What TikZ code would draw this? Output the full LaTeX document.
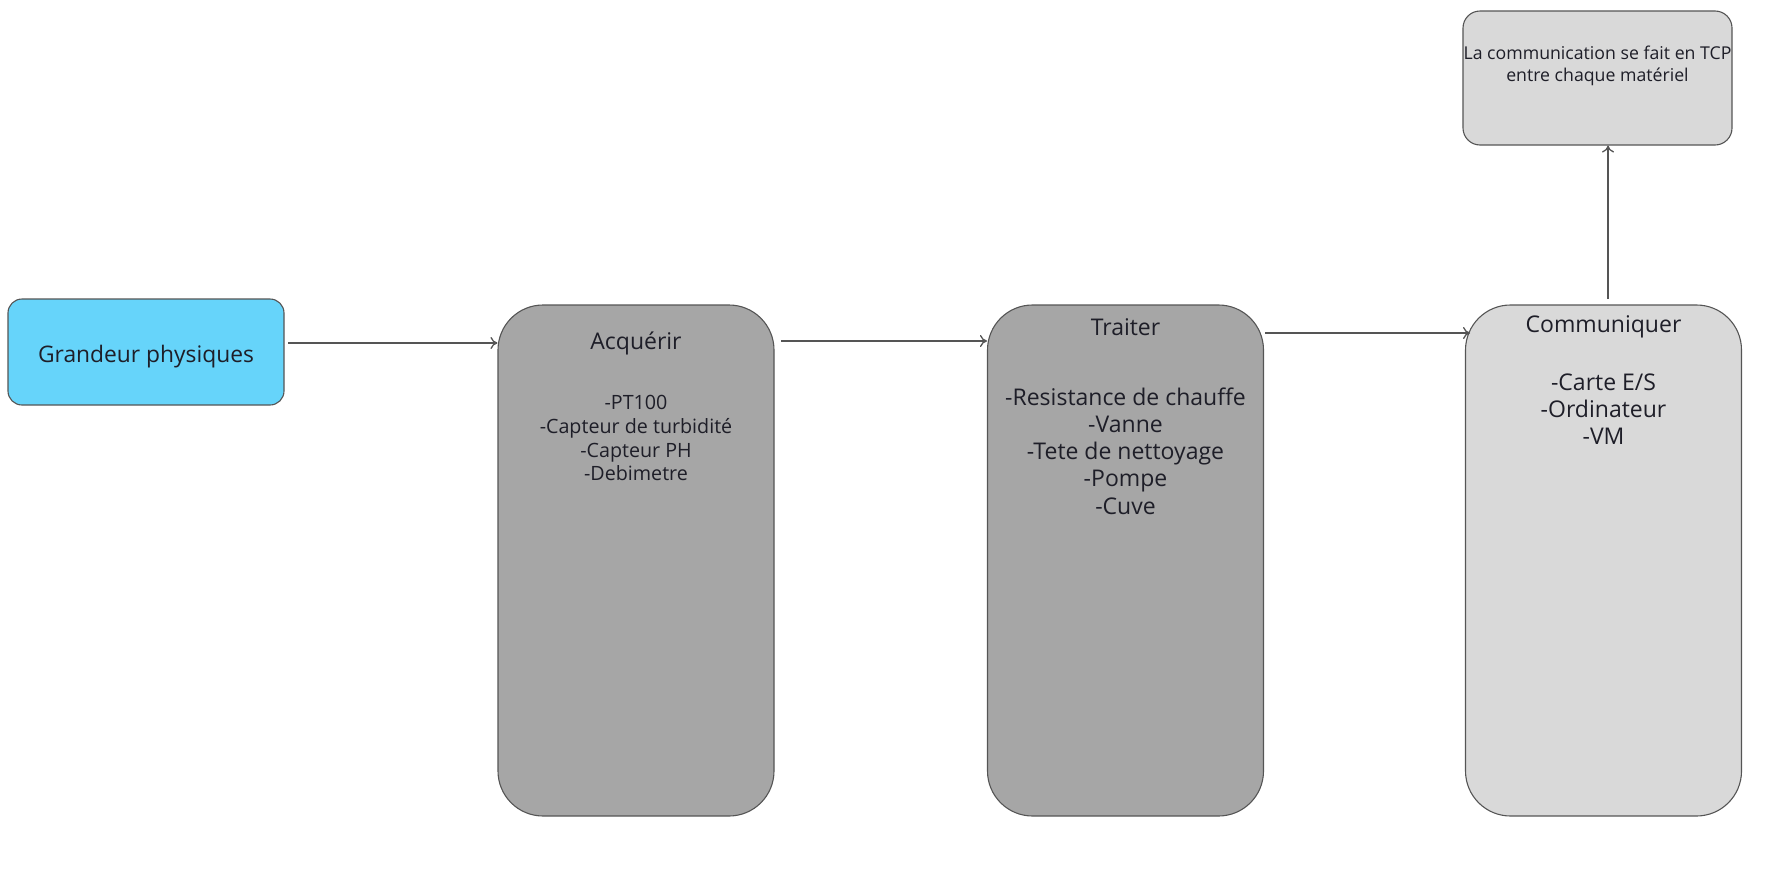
\documentclass[tikz,border=0pt]{standalone}
\usepackage{fontspec}
\setmainfont{Open Sans}
\usetikzlibrary{arrows.meta}
\definecolor{cyanbox}{RGB}{102,212,250}
\definecolor{darkbox}{RGB}{166,166,166}
\definecolor{lightbox}{RGB}{217,217,217}
\definecolor{edgecol}{RGB}{85,85,85}
\definecolor{txtcol}{RGB}{30,30,40}
\tikzset{
  bigbox/.style={draw=edgecol, line width=1.1pt, rounded corners=45pt, minimum width=276pt, minimum height=511pt, inner sep=0pt},
  smallbox/.style={draw=edgecol, line width=1.1pt, inner sep=0pt},
  lbl/.style={align=center, inner sep=0pt, text=txtcol},
  arr/.style={draw=edgecol, line width=1.3pt, -{To[length=7pt,width=12pt]}},
  bigfont/.style={font=\fontsize{23}{27.3}\selectfont},
}
\begin{document}
\begin{tikzpicture}[x=1pt,y=-1pt]
\useasboundingbox (0,0) rectangle (1782,889);
% boxes
\node[smallbox, fill=cyanbox, rounded corners=14pt, minimum width=276pt, minimum height=106pt] (g) at (146,352) {};
\node[lbl, font=\fontsize{22.8}{28}\selectfont] (gt) at (146,357) {Grandeur physiques};
\node[bigbox, fill=darkbox] (acq) at (636,560.5) {};
\node[bigbox, fill=darkbox] (tra) at (1125.5,560.5) {};
\node[bigbox, fill=lightbox] (com) at (1603.5,560.5) {};
\node[smallbox, fill=lightbox, rounded corners=17pt, minimum width=269pt, minimum height=134pt] (tcp) at (1597.5,78) {};
% texts
\node[lbl, bigfont] (acqt) at (636,343) {Acquérir};
\node[lbl, font=\fontsize{19.7}{23.9}\selectfont] (acqi) at (636,438) {-PT100\\-Capteur de turbidité\\-Capteur PH\\-Debimetre};
\node[lbl, bigfont] (trat) at (1125.5,327) {Traiter};
\node[lbl, bigfont] (trai) at (1125.5,451) {-Resistance de chauffe\\-Vanne\\-Tete de nettoyage\\-Pompe\\-Cuve};
\node[lbl, bigfont] (comt) at (1603.5,327) {Communiquer};
\node[lbl, bigfont] (comi) at (1603.5,409) {-Carte E/S\\-Ordinateur\\-VM};
\node[lbl, font=\fontsize{17.7}{21.6}\selectfont] (tcpt) at (1597.5,66) {La communication se fait en TCP\\entre chaque matériel};
% connectors
\coordinate (a1s) at (288,343);
\draw[arr] (a1s) -- (a1s -| acq.west);
\coordinate (a2s) at (781,341);
\draw[arr] (a2s) -- (a2s -| tra.west);
\coordinate (a3s) at (1265,333);
\coordinate (a3e) at (1470,333);
\draw[arr] (a3s) -- (a3e);
\coordinate (a4s) at (1608,299);
\draw[arr] (a4s) -- (a4s |- tcp.south);
\end{tikzpicture}
\end{document}
